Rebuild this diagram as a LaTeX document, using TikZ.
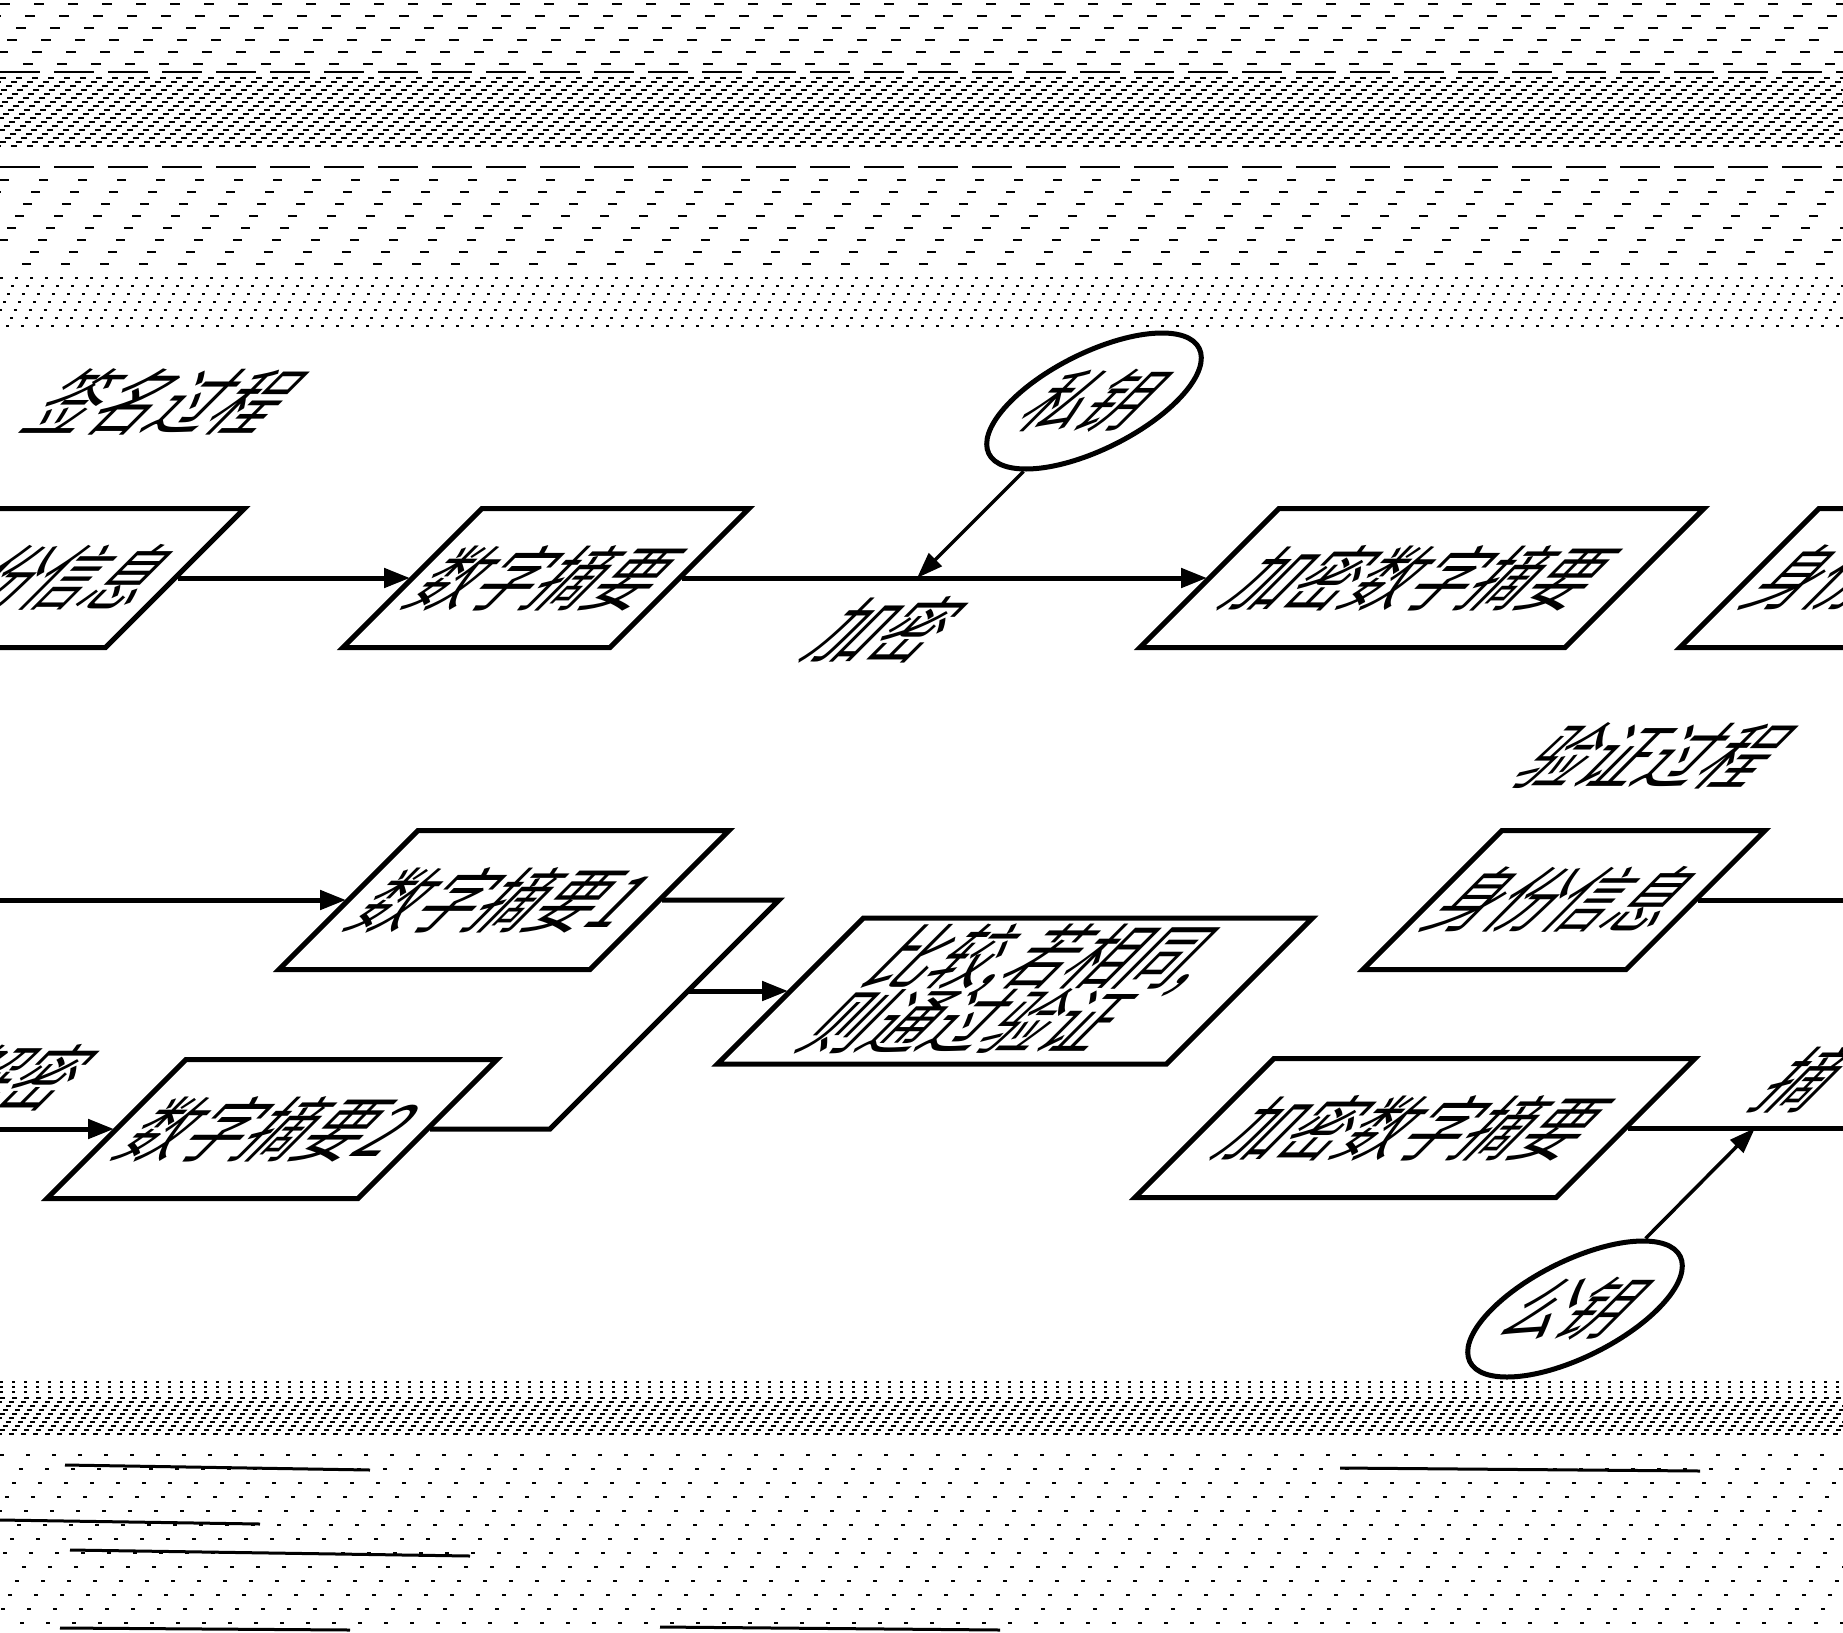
\documentclass[tikz,border=0pt]{standalone}
\usepackage{fontspec}
\usepackage{graphicx}
\newfontfamily\cjk{Noto Sans CJK SC}
\newcommand{\tallt}[1]{\scalebox{1}[1.2]{#1}}
\usetikzlibrary{shapes.geometric,arrows.meta}
\begin{document}
\begin{tikzpicture}[x=1pt,y=-1pt,
  box/.style={draw,line width=5pt,xslant=1,minimum height=139pt,inner sep=0pt,font=\cjk\fontsize{59}{55}\selectfont},
  key/.style={draw,ellipse,line width=5pt,xslant=1,minimum width=166pt,minimum height=136pt,inner sep=0pt,font=\cjk\fontsize{57}{60}\selectfont},
  lbl/.style={xslant=1,inner sep=0pt,font=\cjk\fontsize{60}{60}\selectfont},
  conn/.style={line width=5pt},
  arr/.style={line width=5pt,-{Triangle[length=26pt,width=19pt]}},
  karr/.style={line width=3.5pt,-{Triangle[length=26pt,width=18pt]}},
  noise/.style={line width=2pt,black}]
\useasboundingbox (0,0) rectangle (1843,1632);
\clip (0,0) rectangle (1843,1632);
% --- scan noise, top band ---
\foreach \i in {0,...,5} {\pgfmathsetmacro\yy{4+12*\i}\pgfmathsetmacro\ph{mod(9*\i,34)}
  \draw[noise,dash pattern=on 10pt off 24pt,dash phase=\ph pt] (0,\yy)--(1843,\yy);}
\draw[noise,line width=2.5pt,dash pattern=on 40pt off 14pt] (0,72)--(1843,72);
\foreach \i in {0,...,17} {\pgfmathsetmacro\yy{78+4*\i}\pgfmathsetmacro\ph{mod(5*\i,16)}
  \draw[noise,line width=1.6pt,dash pattern=on 6pt off 10pt,dash phase=\ph pt] (0,\yy)--(1843,\yy);}
\draw[noise,line width=2.5pt,dash pattern=on 40pt off 14pt] (0,167)--(1843,167);
\foreach \i in {0,...,7} {\pgfmathsetmacro\yy{180+12*\i}\pgfmathsetmacro\ph{mod(8*\i,39)}
  \draw[noise,dash pattern=on 9pt off 30pt,dash phase=\ph pt] (0,\yy)--(1843,\yy);}
\foreach \i in {0,...,6} {\pgfmathsetmacro\yy{278+8*\i}\pgfmathsetmacro\ph{mod(4*\i,15)}
  \draw[noise,line width=1.5pt,dash pattern=on 3pt off 12pt,dash phase=\ph pt] (0,\yy)--(1843,\yy);}
% --- scan noise, bottom band ---
\foreach \i in {0,...,2} {\pgfmathsetmacro\yy{1382+5*\i}
  \draw[noise,line width=1.2pt,dash pattern=on 3pt off 9pt] (0,\yy)--(1843,\yy);}
\foreach \i in {0,...,9} {\pgfmathsetmacro\yy{1398+4*\i}\pgfmathsetmacro\ph{mod(3*\i,12)}
  \draw[noise,line width=1.6pt,dash pattern=on 5pt off 7pt,dash phase=\ph pt] (0,\yy)--(1843,\yy);}
\foreach \i in {0,...,12} {\pgfmathsetmacro\yy{1455+14*\i}\pgfmathsetmacro\ph{mod(7*\i,26)}
  \draw[noise,line width=1.6pt,dash pattern=on 4pt off 22pt,dash phase=\ph pt] (0,\yy)--(1843,\yy);}
\draw[noise,line width=3pt] (65,1465)--(370,1470);
\draw[noise,line width=3pt] (1340,1468)--(1700,1471);
\draw[noise,line width=3pt] (0,1520)--(260,1524);
\draw[noise,line width=3pt] (70,1550)--(470,1556);
\draw[noise,line width=3pt] (60,1628)--(350,1630);
\draw[noise,line width=3pt] (660,1627)--(1000,1630);
% --- signing process ---
\node[lbl] (T1) at (166,402) {\tallt{签名过程}};
\node[box,minimum width=267pt] (A) at (41.5,578) {\tallt{身份信息}};
\node[box,minimum width=267pt] (B) at (546,578) {\tallt{数字摘要}};
\node[box,minimum width=425pt] (C) at (1422,578) {\tallt{加密数字摘要}};
\node[box,minimum width=267pt] (D) at (1883,578) {\tallt{身份信息}};
\node[key] (K1) at (1094,401) {\tallt{私钥}};
\coordinate (enc) at (917,578);
\node[lbl] (L1) at (887,630) {\tallt{加密}};
\draw[arr] (A.east) -- (B.west);
\draw[arr] (B.east) -- (C.west);
\draw[karr] (K1.south) -- (enc);
% --- verification process ---
\node[lbl] (T2) at (1655,756) {\tallt{验证过程}};
\node[box,minimum width=311pt] (E) at (504,900) {\tallt{数字摘要1}};
\node[box,minimum width=311pt] (F) at (272,1129) {\tallt{数字摘要2}};
\node[box,minimum width=449pt,minimum height=146pt] (G) at (1015,991) {\raisebox{-57pt}[0pt][0pt]{\tallt{\smash{\vbox{\baselineskip=54pt\lineskiplimit=-1000pt\lineskip=0pt\hbox{比较,若相同,}\hbox{则通过验证}}}}}};
\node[box,minimum width=263pt] (H) at (1564,900) {\tallt{身份信息}};
\node[box,minimum width=421pt] (I) at (1415,1128) {\tallt{加密数字摘要}};
\node[key] (K2) at (1575,1309) {\tallt{公钥}};
\node[lbl] (L2) at (18,1078) {\tallt{解密}};
\node[lbl] (L3) at (1805,1080) {\tallt{摘}};
\coordinate (inE) at (0,900);
\coordinate (inF) at (0,1129);
\coordinate (j1) at (779,900);
\coordinate (j2) at (550,1129);
\coordinate (j3) at (688,991);
\coordinate (outH) at (1843,900);
\coordinate (outI) at (1843,1128);
\coordinate (dec) at (1755,1128);
\draw[arr] (inE) -- (E.west);
\draw[arr] (inF) -- (F.west);
\draw[conn] (E.east) -- (j1) -- (j2) -- (F.east);
\draw[arr] (j3) -- (G.west);
\draw[conn] (H.east) -- (outH);
\draw[conn] (I.east) -- (outI);
\draw[karr] (K2.north) -- (dec);
\end{tikzpicture}
\end{document}
